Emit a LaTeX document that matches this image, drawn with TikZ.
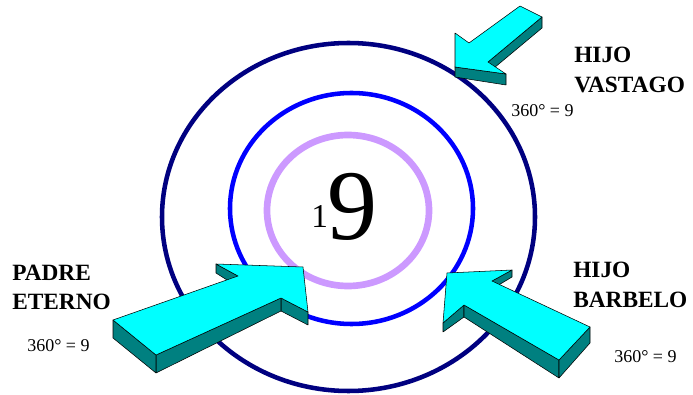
\documentclass[tikz,border=0pt]{standalone}
\usepackage{fontspec}
\setmainfont{Liberation Serif}
\usepackage{tikz}
\usetikzlibrary{positioning}

\definecolor{ringnavy}{RGB}{0,0,128}
\definecolor{ringblue}{RGB}{0,0,255}
\definecolor{ringlilac}{RGB}{204,153,255}
\definecolor{arrowtop}{RGB}{0,255,255}
\definecolor{arrowside}{RGB}{0,128,128}

\begin{document}
\begin{tikzpicture}[x=0.75pt, y=-0.75pt,
    arrowface/.style={fill=arrowtop, draw=black, line width=0.4pt, line join=round},
    arrowwall/.style={fill=arrowside, draw=black, line width=0.4pt, line join=round},
    bigname/.style={anchor=base west, inner sep=0pt, font=\fontsize{17.5}{21}\selectfont\bfseries},
    degree/.style={anchor=base west, inner sep=0pt, font=\fontsize{13.5}{15}\selectfont}]
        \useasboundingbox (0,0) rectangle (693,395);

        % Rings
        \draw[ringnavy, line width=3.4pt] (348.5,217) ellipse [x radius=186.5, y radius=174];
        \draw[ringblue, line width=3.4pt] (351.5,208.5) ellipse [x radius=121.5, y radius=115.5];
        \draw[ringlilac, line width=5pt] (348,210.5) ellipse [x radius=81, y radius=75.5];

        % Centre
        \node[anchor=base west, inner sep=0pt, font=\fontsize{25}{28}\selectfont] (one) at (311,228) {1};
        \node[anchor=base west, inner sep=0pt, font=\fontsize{75}{80}\selectfont] (nine) at (327,240) {9};

        % Arrow, hijo vastago
        \filldraw[arrowwall] (542,17) -- (488,62) -- (488,73) -- (542,28) -- cycle;
        \filldraw[arrowwall] (455,67) -- (506,74) -- (506,85) -- (455,77) -- cycle;
        \filldraw[arrowface] (455,33) -- (469,43) -- (520,6) -- (542,17) -- (488,62) -- (506,74) -- (455,67) -- cycle;

        % Arrow, padre eterno
        \filldraw[arrowwall] (238,276) -- (216,264) -- (216,273) -- (238,287) -- cycle;
        \filldraw[arrowwall] (308,312) -- (281,298) -- (281,311) -- (308,325) -- cycle;
        \filldraw[arrowwall] (281,298) -- (156,355) -- (156,373) -- (281,311) -- cycle;
        \filldraw[arrowwall] (156,355) -- (113,320) -- (113,338) -- (156,373) -- cycle;
        \filldraw[arrowface] (113,320) -- (238,276) -- (216,264) -- (303,267) -- (308,312) -- (281,298) -- (156,355) -- cycle;

        % Arrow, hijo barbelo
        \filldraw[arrowwall] (512,270) -- (492,281) -- (492,289) -- (512,277) -- cycle;
        \filldraw[arrowwall] (464,305) -- (443,323) -- (443,332) -- (464,317) -- cycle;
        \filldraw[arrowwall] (559,360) -- (464,305) -- (464,317) -- (559,378) -- cycle;
        \filldraw[arrowwall] (590,327) -- (559,360) -- (559,378) -- (590,343) -- cycle;
        \filldraw[arrowface] (447,273) -- (512,270) -- (492,281) -- (590,327) -- (559,360) -- (464,305) -- (443,323) -- cycle;

        % Labels
        \node[bigname] (vastagoA) at (574,63) {HIJO};
        \node[bigname] (vastagoB) at (574,93) {VASTAGO};
        \node[degree] (vastagoC) at (511,117) {360° = 9};

        \node[bigname] (padreA) at (12,281) {PADRE};
        \node[bigname] (padreB) at (12,310) {ETERNO};
        \node[degree] (padreC) at (27,352) {360° = 9};

        \node[bigname] (barbeloA) at (573,278) {HIJO};
        \node[bigname] (barbeloB) at (573,308) {BARBELO};
        \node[degree] (barbeloC) at (614,363) {360° = 9};
      \end{tikzpicture}
\end{document}
